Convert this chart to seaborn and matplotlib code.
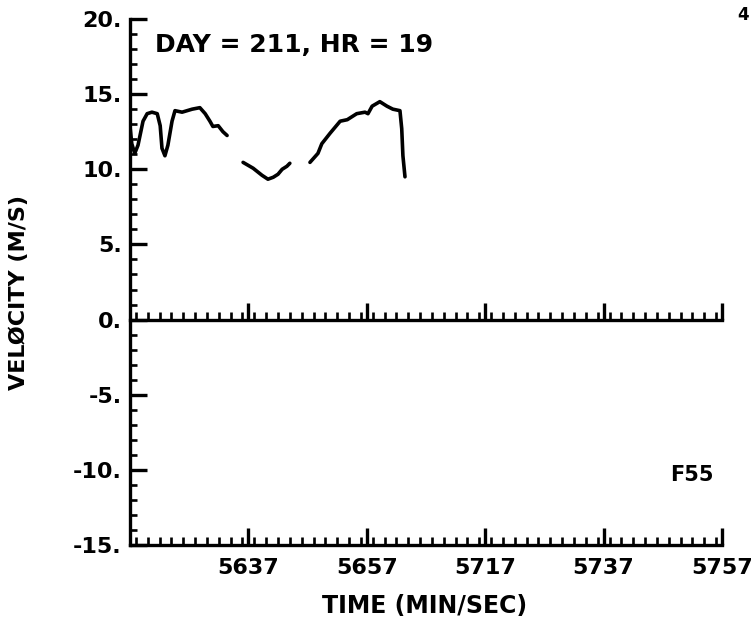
import numpy as np
import pandas as pd
import matplotlib
matplotlib.use("Agg")
import matplotlib.pyplot as plt
from matplotlib.ticker import MultipleLocator, FixedLocator, FixedFormatter
import seaborn as sns

# ---- data (time in seconds after 56:00, velocity in m/s) ----
seg1_t = [17.0, 17.3, 17.8, 18.35, 19.2, 19.9, 20.7, 21.6, 22.1, 22.4, 22.9, 23.4,
          24.1, 24.6, 25.8, 27.5, 28.8, 29.7, 30.5, 31.0, 31.9, 32.7, 33.4]
seg1_v = [12.85, 11.7, 11.06, 11.6, 13.2, 13.7, 13.8, 13.7, 12.9, 11.4, 10.9, 11.6,
          13.2, 13.9, 13.8, 14.0, 14.1, 13.7, 13.2, 12.85, 12.9, 12.5, 12.25]
seg2_t = [36.1, 37.8, 39.3, 40.3, 41.2, 42.0, 42.7, 43.5, 44.0]
seg2_v = [10.46, 10.07, 9.6, 9.34, 9.47, 9.67, 10.0, 10.2, 10.4]
seg3_t = [47.4, 48.75, 49.4, 50.8, 52.5, 53.7, 55.3, 56.7, 57.2, 57.9, 59.2, 60.4,
          61.4, 62.6, 62.9, 63.1, 63.45]
seg3_v = [10.46, 11.06, 11.7, 12.4, 13.2, 13.3, 13.7, 13.8, 13.7, 14.2, 14.5, 14.2,
          14.0, 13.9, 12.7, 10.9, 9.5]

x_tick_pos = [37, 57, 77, 97, 117]
x_tick_labels = ["5637", "5657", "5717", "5737", "5757"]
y_tick_pos = [-15, -10, -5, 0, 5, 10, 15, 20]
y_tick_labels = ["-15.", "-10.", "-5.", "0.", "5.", "10.", "15.", "20."]

title_text = "DAY = 211, HR = 19"
station_text = "F55"
page_text = "4"
x_label = "TIME (MIN/SEC)"
y_label = "VELØCITY (M/S)"

df = pd.concat([
    pd.DataFrame({"t": seg1_t, "v": seg1_v, "seg": 1}),
    pd.DataFrame({"t": seg2_t, "v": seg2_v, "seg": 2}),
    pd.DataFrame({"t": seg3_t, "v": seg3_v, "seg": 3}),
])

sns.set_style("ticks")
plt.rcParams["font.family"] = ["DejaVu Sans"]
plt.rcParams["font.weight"] = "bold"
plt.rcParams["text.color"] = "black"
plt.rcParams["axes.labelcolor"] = "black"
plt.rcParams["axes.edgecolor"] = "black"
plt.rcParams["xtick.color"] = "black"
plt.rcParams["ytick.color"] = "black"

fig = plt.figure(figsize=(7.55, 6.17), dpi=100)
ax = fig.add_axes([130 / 755, 1 - 545 / 617, 592 / 755, 526 / 617])

sns.lineplot(data=df, x="t", y="v", units="seg", estimator=None, sort=False,
             color="black", linewidth=2.6, ax=ax, legend=False)

ax.set_xlim(17, 117)
ax.set_ylim(-15, 20)

lw = 2.4
for s in ["top", "right"]:
    ax.spines[s].set_visible(False)
for s in ["left", "bottom"]:
    ax.spines[s].set_linewidth(lw)
    ax.spines[s].set_color("black")

ax.xaxis.set_major_locator(FixedLocator(x_tick_pos))
ax.xaxis.set_major_formatter(FixedFormatter(x_tick_labels))
ax.xaxis.set_minor_locator(MultipleLocator(2))
ax.yaxis.set_major_locator(FixedLocator(y_tick_pos))
ax.yaxis.set_major_formatter(FixedFormatter(y_tick_labels))
ax.yaxis.set_minor_locator(MultipleLocator(1))

ax.tick_params(axis="x", which="major", direction="in", length=12, width=lw,
               labelsize=16, pad=9, colors="black")
ax.tick_params(axis="x", which="minor", direction="in", length=6, width=lw * 0.8,
               colors="black")
ax.tick_params(axis="y", which="major", direction="in", length=12, width=lw,
               labelsize=16, pad=6, colors="black")
ax.tick_params(axis="y", which="minor", direction="in", length=5, width=lw * 0.8,
               colors="black")

# zero line with its own upward ticks
ax2 = ax.twiny()
ax2.set_xlim(ax.get_xlim())
for s in ["left", "right", "bottom"]:
    ax2.spines[s].set_visible(False)
ax2.spines["top"].set_position(("data", 0))
ax2.spines["top"].set_linewidth(lw)
ax2.spines["top"].set_color("black")
ax2.xaxis.set_major_locator(FixedLocator(x_tick_pos))
ax2.xaxis.set_minor_locator(MultipleLocator(2))
ax2.tick_params(axis="x", which="major", direction="out", length=12, width=lw,
                labeltop=False, top=True, colors="black")
ax2.tick_params(axis="x", which="minor", direction="out", length=6, width=lw * 0.8,
                top=True, colors="black")
ax2.set_xticklabels([])

ax.set_xlabel(x_label, fontsize=17, fontweight="bold", color="black")
ax.xaxis.set_label_coords(0.498, -0.093)
ax.set_ylabel("")
fig.text(19 / 755, 1 - 292 / 617, y_label, rotation=90, fontsize=16,
         fontweight="bold", ha="center", va="center", color="black")

ax.text(0.042, 0.951, title_text, transform=ax.transAxes, fontsize=18,
        fontweight="bold", va="center", ha="left", color="black")
ax.text(0.949, 0.133, station_text, transform=ax.transAxes, fontsize=15,
        fontweight="bold", va="center", ha="center", color="black")
fig.text(0.992, 0.975, page_text, fontsize=12, fontweight="bold",
         ha="right", va="center", color="black")

fig.savefig("out.png", dpi=100, facecolor="white")
